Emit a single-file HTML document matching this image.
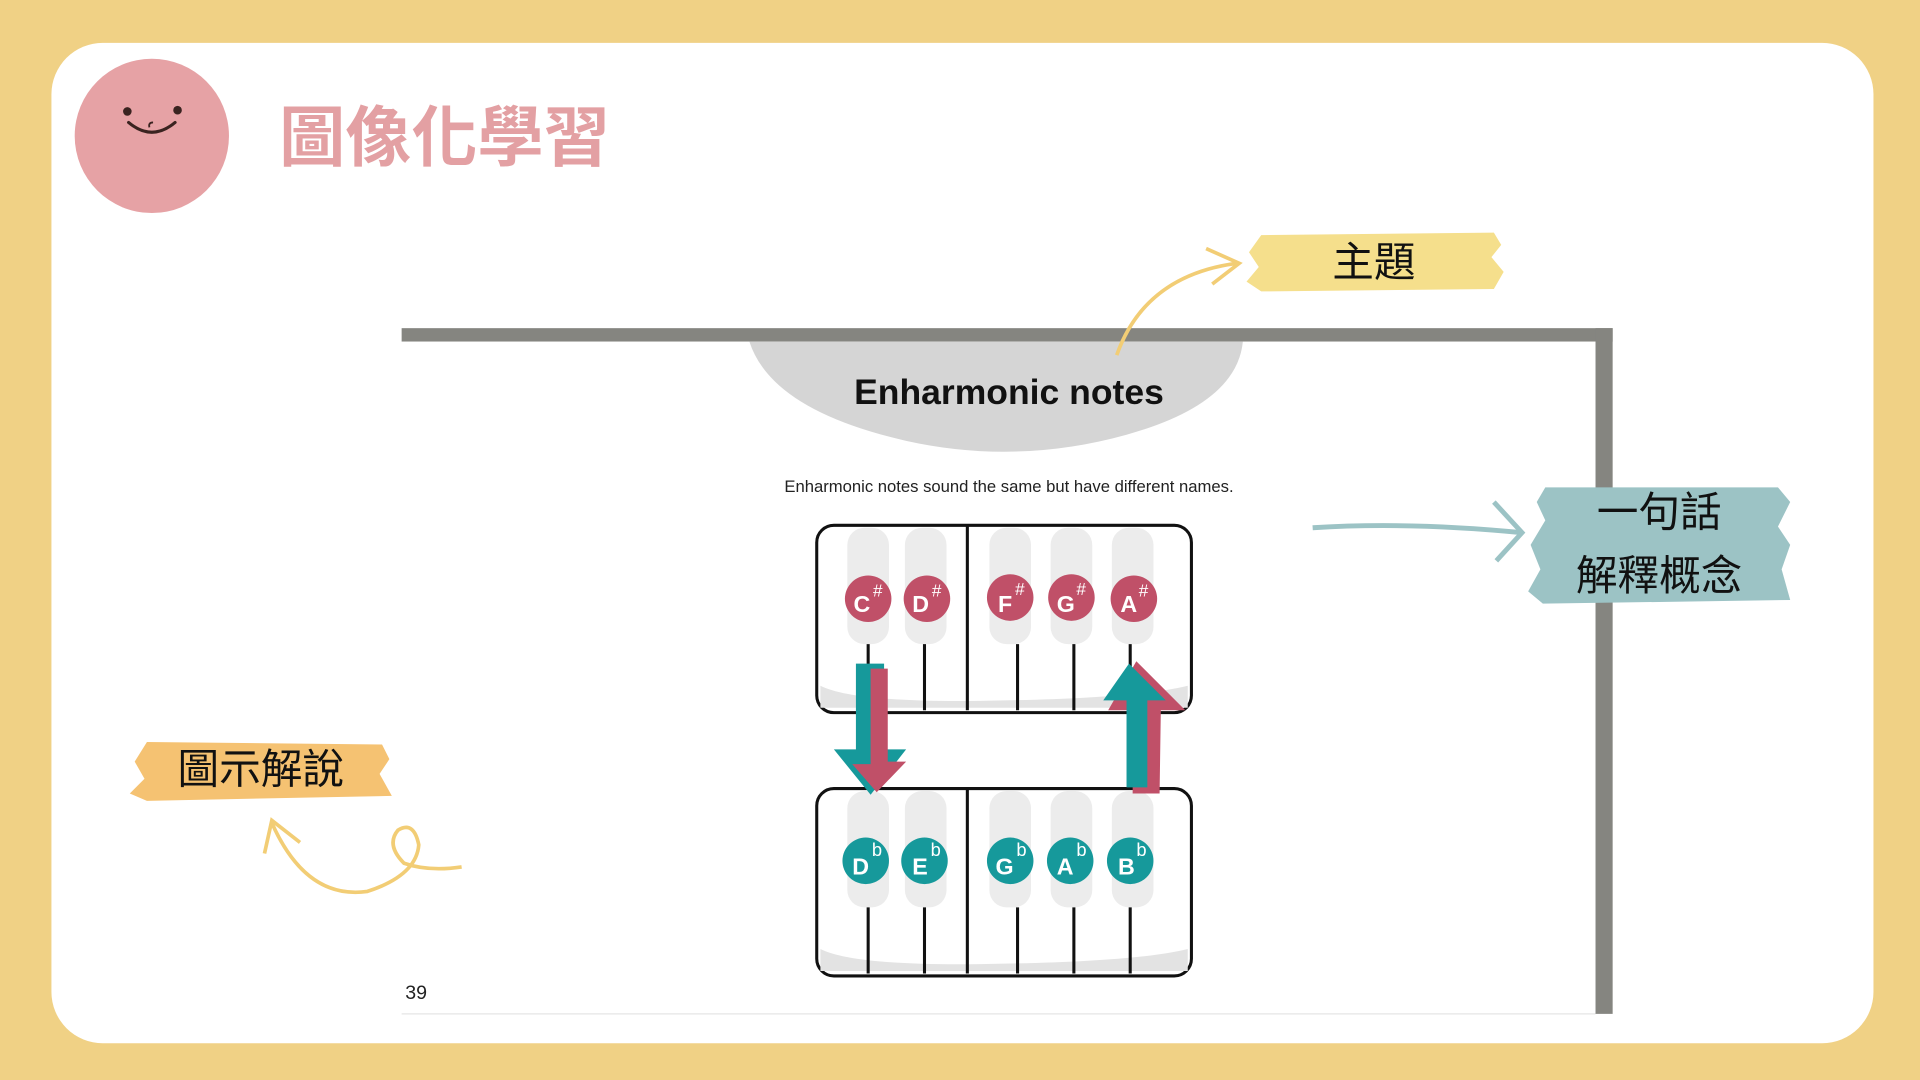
<!DOCTYPE html>
<html><head><meta charset="utf-8"><style>
html,body{margin:0;padding:0;width:1920px;height:1080px;overflow:hidden;background:#f0d185}
svg{display:block}
.cjk{font-family:"Liberation Sans","Noto Sans CJK TC",sans-serif}
</style></head><body>
<svg width="1920" height="1080" viewBox="0 0 1568 882" xmlns="http://www.w3.org/2000/svg">
<rect x="0" y="0" width="1568" height="882" fill="#f0d185"/>
<rect x="42" y="35" width="1488" height="817" rx="42" fill="#fff"/>
<ellipse cx="124" cy="111" rx="63" ry="63" fill="#e6a2a5"/>
<circle cx="104" cy="91" r="3.5" fill="#3a2320"/>
<circle cx="145" cy="90" r="3.5" fill="#3a2320"/>
<path d="M105 100 Q124 116 143 100" stroke="#3a2320" stroke-width="2.5" fill="none" stroke-linecap="round"/>
<path d="M122 104 q-1 -4 3 -4" stroke="#3a2320" stroke-width="1.5" fill="none"/>
<text x="228" y="131" class="cjk" font-size="54" font-weight="bold" fill="#e3a0a3">圖像化學習</text>
<rect x="328" y="268" width="989" height="11" fill="#858580"/>
<rect x="1303" y="268" width="14" height="560" fill="#858580"/>
<rect x="328" y="279" width="975" height="549" fill="#fff"/>
<line x1="328" y1="828" x2="1303" y2="828" stroke="#e6e6e6" stroke-width="1"/>
<path d="M612 279 L1015 279 Q1010 330 920 355 Q830 380 740 360 Q630 335 612 279 Z" fill="#d5d5d5"/>
<text x="824" y="330" text-anchor="middle" font-family="Liberation Sans,sans-serif" font-size="29" font-weight="bold" fill="#111">Enharmonic notes</text>
<text x="824" y="402" text-anchor="middle" font-family="Liberation Sans,sans-serif" font-size="13.6" fill="#222">Enharmonic notes sound the same but have different names.</text>
<g id="kb">
<rect x="667" y="429" width="306" height="153" rx="14" fill="#fff" stroke="#111" stroke-width="2.5"/>
<path d="M670 560 Q700 575 820 572 Q930 570 970 560 L970 578 L670 578 Z" fill="#e3e3e3"/>
<g fill="#ececec">
<rect x="692" y="431" width="34" height="95" rx="14"/>
<rect x="739" y="431" width="34" height="95" rx="14"/>
<rect x="808" y="431" width="34" height="95" rx="14"/>
<rect x="858" y="431" width="34" height="95" rx="14"/>
<rect x="908" y="431" width="34" height="95" rx="14"/>
</g>
<g stroke="#111" stroke-width="2.5">
<line x1="709" y1="526" x2="709" y2="580"/>
<line x1="755" y1="526" x2="755" y2="580"/>
<line x1="790" y1="430" x2="790" y2="580"/>
<line x1="831" y1="526" x2="831" y2="580"/>
<line x1="877" y1="526" x2="877" y2="580"/>
<line x1="923" y1="526" x2="923" y2="580"/>
</g>
</g>
<use href="#kb" transform="translate(0,215)"/>
<g font-family="Liberation Sans,sans-serif" font-weight="bold" fill="#fff">
<g fill="#c05068"><circle cx="709" cy="489" r="19"/><circle cx="757" cy="489" r="19"/><circle cx="825" cy="488" r="19"/><circle cx="875" cy="488" r="19"/><circle cx="926" cy="489" r="19"/></g>
<g font-size="19"><text x="697" y="500">C</text><text x="745" y="500">D</text><text x="815" y="500">F</text><text x="863" y="500">G</text><text x="915" y="500">A</text></g>
<g font-size="14" font-weight="normal"><text x="713" y="487">#</text><text x="761" y="487">#</text><text x="829" y="486">#</text><text x="879" y="486">#</text><text x="930" y="487">#</text></g>
<g fill="#16999b"><circle cx="707" cy="703" r="19"/><circle cx="755" cy="703" r="19"/><circle cx="825" cy="703" r="19"/><circle cx="874" cy="703" r="19"/><circle cx="923" cy="703" r="19"/></g>
<g font-size="19"><text x="696" y="714">D</text><text x="745" y="714">E</text><text x="813" y="714">G</text><text x="863" y="714">A</text><text x="913" y="714">B</text></g>
<g font-size="15" font-weight="normal"><text x="712" y="699">b</text><text x="760" y="699">b</text><text x="830" y="699">b</text><text x="879" y="699">b</text><text x="928" y="699">b</text></g>
</g>
<path d="M699 542 L722 542 L722 612 L740 612 L711 649 L681 612 L699 612 Z" fill="#16999b"/>
<path d="M711 546 L725 546 L725 622 L740 622 L716 647 L696 624 L711 624 Z" fill="#c05068"/>
<path d="M928 540 L968 580 L948 580 L947 648 L925 648 L925 580 L905 580 Z" fill="#c05068"/>
<path d="M922 542 L952 572 L937 572 L937 643 L920 643 L920 572 L901 572 Z" fill="#16999b"/>
<text x="331" y="816" font-family="Liberation Sans,sans-serif" font-size="16" fill="#222">39</text>
<path d="M1030 192 L1220 190 L1226 200 L1218 210 L1228 222 L1220 236 L1030 238 L1018 230 L1028 218 L1020 206 Z" fill="#f5df8c"/>
<text x="1122" y="226" text-anchor="middle" class="cjk" font-size="34" fill="#111">主題</text>
<path d="M912 290 Q935 225 1010 215" stroke="#f2cd75" stroke-width="3" fill="none"/>
<path d="M985 203 L1012 215 L990 232" stroke="#f2cd75" stroke-width="3" fill="none"/>
<path d="M1262 398 L1452 398 L1462 410 L1452 430 L1462 445 L1455 465 L1462 490 L1260 493 L1248 483 L1258 465 L1250 445 L1262 425 L1255 410 Z" fill="#9cc3c5"/>
<text x="1355" y="430" text-anchor="middle" class="cjk" font-size="34" fill="#111">一句話</text>
<text x="1355" y="482" text-anchor="middle" class="cjk" font-size="34" fill="#111">解釋概念</text>
<path d="M1072 431 Q1150 426 1243 435" stroke="#9cc3c5" stroke-width="4" fill="none"/>
<path d="M1220 410 L1243 435 L1222 458" stroke="#9cc3c5" stroke-width="4" fill="none"/>
<path d="M120 606 L312 608 L318 620 L310 632 L320 650 L120 654 L106 648 L118 636 L110 622 Z" fill="#f5c272"/>
<text x="213" y="640" text-anchor="middle" class="cjk" font-size="34" fill="#111">圖示解說</text>
<path d="M377 708 Q350 712 330 705 Q315 690 325 678 Q338 670 342 690 Q340 715 300 728 Q250 735 222 672" stroke="#f2cd75" stroke-width="3" fill="none"/>
<path d="M216 697 L222 670 L245 688" stroke="#f2cd75" stroke-width="3" fill="none"/>
</svg>
</body></html>
